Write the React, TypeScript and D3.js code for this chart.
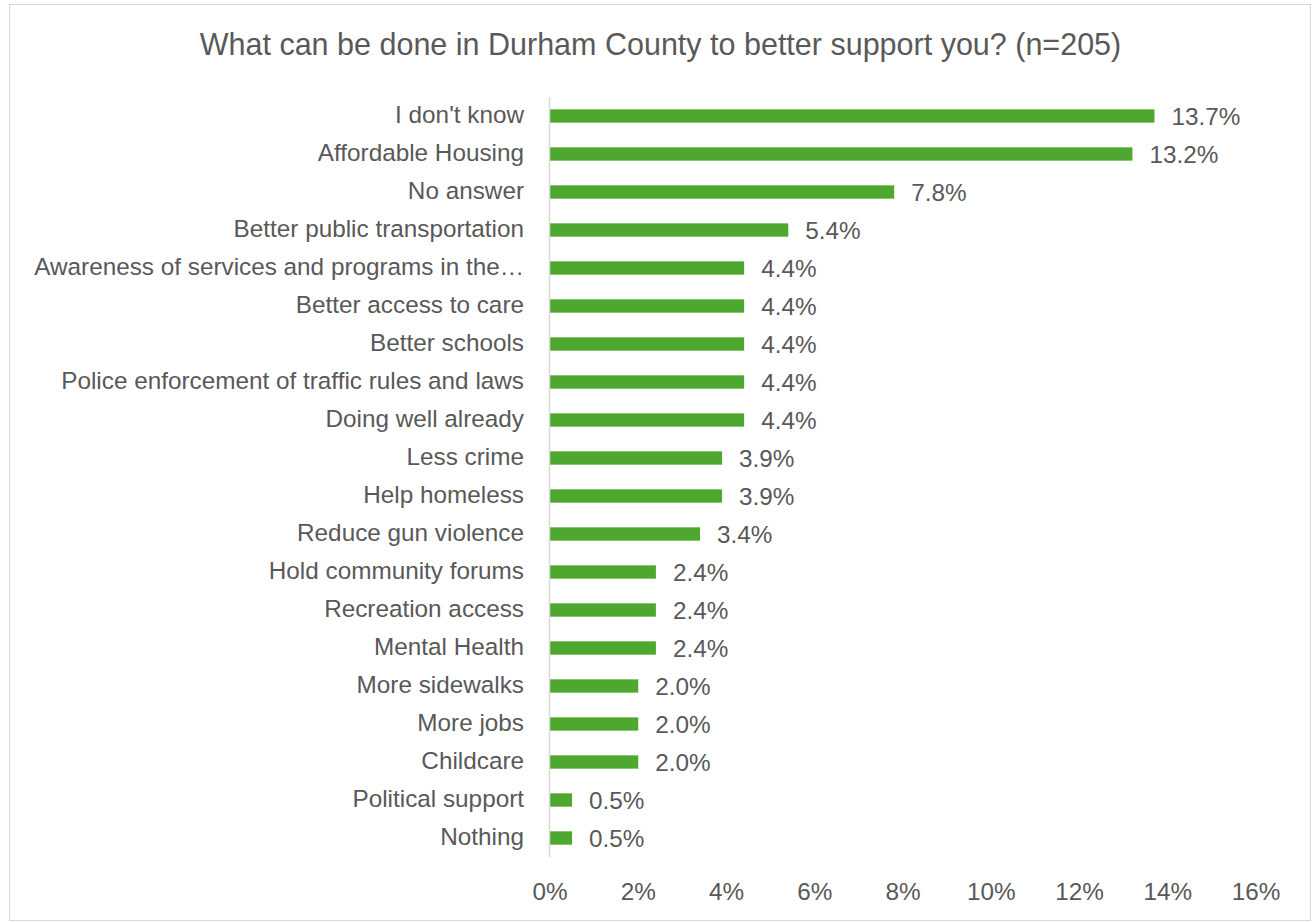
import React from "react";
import * as d3 from "d3";

const categories: string[] = [
  "I don't know",
  "Affordable Housing",
  "No answer",
  "Better public transportation",
  "Awareness of services and programs in the…",
  "Better access to care",
  "Better schools",
  "Police enforcement of traffic rules and laws",
  "Doing well already",
  "Less crime",
  "Help homeless",
  "Reduce gun violence",
  "Hold community forums",
  "Recreation access",
  "Mental Health",
  "More sidewalks",
  "More jobs",
  "Childcare",
  "Political support",
  "Nothing",
];

const values: number[] = [
  13.7, 13.2, 7.8, 5.4, 4.4, 4.4, 4.4, 4.4, 4.4, 3.9, 3.9, 3.4, 2.4, 2.4, 2.4, 2.0, 2.0, 2.0, 0.5, 0.5,
];

const xTicks: number[] = [0, 2, 4, 6, 8, 10, 12, 14, 16];

const title = "What can be done in Durham County to better support you? (n=205)";

const W = 1314;
const H = 923;
const FONT = "'Liberation Sans', Arial, sans-serif";
const TEXT = "#595959";
const GREEN = "#4EA72E";
const LABEL_SIZE = 24.3;

export default function App() {
  const x = d3.scaleLinear().domain([0, 16]).range([550, 1256]);
  const y = d3
    .scaleBand<string>()
    .domain(categories)
    .range([97, 857])
    .paddingInner(0.65)
    .paddingOuter(0.325);

  return (
    <svg
      width={W}
      height={H}
      style={{ position: "absolute", left: 0, top: 0 }}
      fontFamily={FONT}
    >
      <rect x={0} y={0} width={W} height={H} fill="#fff" />
      <rect x={9.5} y={4.5} width={1301} height={916} fill="#fff" stroke="#d9d9d9" strokeWidth={1} />
      <text x={660.5} y={55} textAnchor="middle" fontSize={30.5} fill={TEXT}>
        {title}
      </text>
      {categories.map((c, i) => {
        const yc = (y(c) as number) + y.bandwidth() / 2;
        return (
          <g key={c}>
            <rect x={x(0)} y={y(c)} width={x(values[i]) - x(0)} height={y.bandwidth()} fill={GREEN} />
            <text x={524} y={yc - 2} dy="0.35em" textAnchor="end" fontSize={LABEL_SIZE} fill={TEXT}>
              {c}
            </text>
            <text x={x(values[i]) + 17} y={yc} dy="0.35em" textAnchor="start" fontSize={LABEL_SIZE} fill={TEXT}>
              {values[i].toFixed(1) + "%"}
            </text>
          </g>
        );
      })}
      <line x1={549.5} x2={549.5} y1={97} y2={857} stroke="#d9d9d9" strokeWidth={1.5} />
      {xTicks.map((t) => (
        <text key={t} x={x(t)} y={891} dy="0.35em" textAnchor="middle" fontSize={LABEL_SIZE} fill={TEXT}>
          {t + "%"}
        </text>
      ))}
    </svg>
  );
}
